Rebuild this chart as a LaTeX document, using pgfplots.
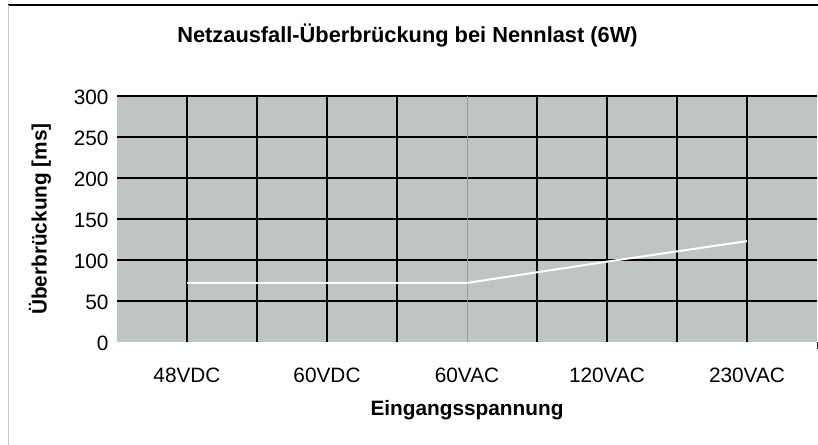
\documentclass[border=0pt]{standalone}
\usepackage{pgfplots}
\pgfplotsset{compat=1.18}
\usepackage{fontspec}
\setmainfont{Liberation Sans}
\definecolor{plotbg}{RGB}{193,196,197}
\definecolor{frameg}{RGB}{200,200,200}
\begin{document}
\begin{tikzpicture}[x=1bp,y=1bp]
\path[use as bounding box] (0,0) rectangle (818,445);
\fill[white] (0,0) rectangle (818,445);
\draw[black,line width=2bp] (8,439.5) -- (818,439.5);
\draw[frameg,line width=1bp] (8,440) -- (8,0);
\node[font=\fontsize{21.8bp}{24bp}\selectfont\bfseries] at (407.5,409) {Netzausfall-Überbrückung bei Nennlast (6W)};
\begin{axis}[
  at={(117bp,103bp)}, anchor=south west,
  scale only axis, width=700bp, height=246bp,
  xmin=0, xmax=10, ymin=0, ymax=300,
  axis background/.style={fill=plotbg},
  axis line style={draw=none},
  xtick={1,3,5,7,9},
  xticklabels={48VDC,60VDC,60VAC,120VAC,230VAC},
  ytick={0,50,100,150,200,250,300},
  major tick length=0pt,
  tick style={draw=none},
  /pgf/number format/assume math mode=true,
  ticklabel style={font=\fontsize{20.8bp}{24bp}\selectfont},
  xticklabel style={anchor=center, yshift=-33bp},
  yticklabel style={xshift=-5bp, yshift=-1.5bp},
  xlabel={Eingangsspannung},
  ylabel={Überbrückung [ms]},
  label style={font=\fontsize{20.8bp}{24bp}\selectfont\bfseries},
  xlabel style={at={(axis description cs:0.5,-0.2764)}, anchor=center},
  ylabel style={at={(axis description cs:-0.11,0.5)}, anchor=center},
  clip=false,
]
% grid lines
\foreach \v/\w in {50/2,100/1.5,150/1.5,200/2,250/1.3,300/2} {
  \edef\tmp{\noexpand\draw[black,line width=\w bp] (axis cs:0,\v) -- (axis cs:10,\v);}\tmp
}
\foreach \u in {1,2,3,4,6,7,8,9} {
  \edef\tmp{\noexpand\draw[black,line width=1.5bp] (axis cs:\u,0) -- (axis cs:\u,300);}\tmp
}
\draw[gray!80,line width=0.7bp] (axis cs:5,0) -- (axis cs:5,300);
\draw[black!85,line width=1bp] (axis cs:10,-8) -- (axis cs:10,0);
\addplot[white,line width=2bp,mark=none] coordinates {
  (1,72) (3,72) (5,72) (7,98) (9,123)
};
\end{axis}
\end{tikzpicture}
\end{document}
